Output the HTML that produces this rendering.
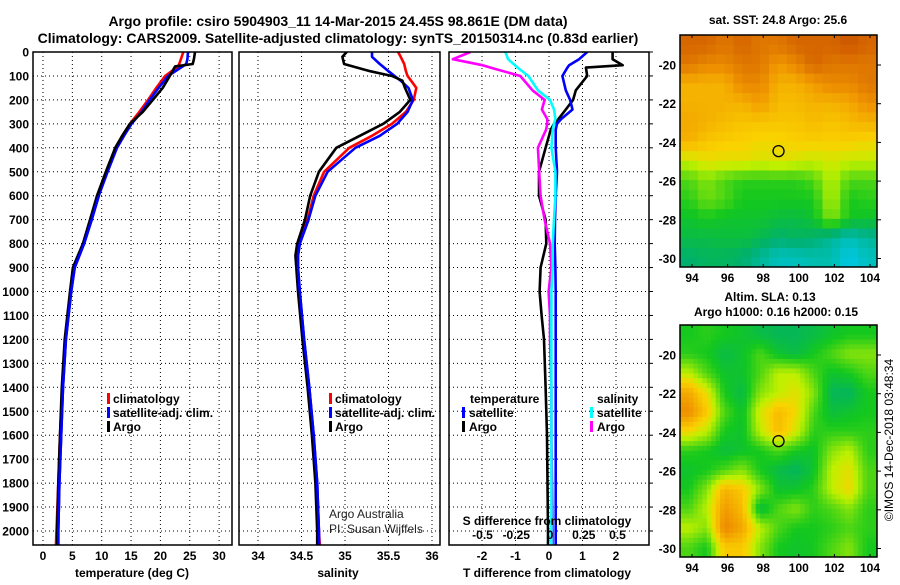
<!DOCTYPE html>
<html><head><meta charset="utf-8"><style>
body{margin:0;background:#fff;}
svg text{font-family:"Liberation Sans",Arial,sans-serif;font-weight:bold;font-size:12px;fill:#000;}
</style></head><body>
<svg id="chart" width="900" height="580" viewBox="0 0 900 580" xmlns="http://www.w3.org/2000/svg">
<text x="338" y="26" text-anchor="middle" style="font-size:14px">Argo profile: csiro 5904903_11 14-Mar-2015 24.45S 98.861E (DM data)</text>
<text x="338" y="43" text-anchor="middle" style="font-size:14px">Climatology: CARS2009. Satellite-adjusted climatology: synTS_20150314.nc (0.83d earlier)</text>
<g id="g"></g>
</svg>
<script>
// ---- data ----
const tDepth=[0,30,50,60,100,150,200,250,300,350,400,500,600,700,800,900,1000,1200,1400,1600,1800,2000,2060];
const tArgo=[25.9,25.7,25.5,22.5,21.6,20.4,18.7,17,14.8,13.5,12.3,10.7,9.2,8,6.8,5.1,4.6,3.7,3.2,2.9,2.6,2.4,2.4];
const tClim=[23.9,23.5,23.2,23,20.8,19.3,17.9,16.4,14.8,13.5,12.4,10.8,9.3,8.1,6.9,5.3,4.7,3.8,3.3,2.9,2.6,2.3,2.2];
const tSat=[24.7,24.6,24.4,23.8,21.3,19.7,18.2,16.8,15.1,13.8,12.6,11,9.5,8.3,7,5.4,4.8,3.9,3.4,3.1,2.8,2.6,2.6];
const sDepth=[0,20,50,80,100,120,150,200,250,300,350,400,500,600,700,800,850,900,1000,1200,1400,1600,1800,2000,2060];
const sArgo=[35.02,34.97,34.99,35.29,35.54,35.66,35.69,35.75,35.63,35.44,35.17,34.9,34.7,34.6,34.54,34.45,34.43,34.44,34.46,34.51,34.57,34.62,34.66,34.68,34.68];
const sClim=[35.61,35.64,35.68,35.7,35.72,35.76,35.82,35.79,35.7,35.54,35.31,35.05,34.76,34.64,34.57,34.47,34.45,34.45,34.47,34.52,34.58,34.63,34.67,34.7,34.71];
const sSat=[35.31,35.31,35.4,35.5,35.57,35.64,35.73,35.78,35.72,35.6,35.4,35.12,34.8,34.66,34.58,34.48,34.46,34.46,34.48,34.53,34.59,34.64,34.68,34.7,34.7];
const dDepth=[0,30,55,65,100,160,200,240,280,300,325,400,500,600,700,800,900,1000,1100,1200,1400,1600,2000,2060];
const dTArgo=[1.9,1.9,2.2,1.1,1.14,0.8,0.72,0.5,0.28,0.15,0.05,-0.1,-0.3,-0.3,-0.1,-0.08,-0.25,-0.28,-0.22,-0.15,-0.1,-0.06,-0.03,-0.03];
const dTSat=[1.14,0.9,0.6,0.55,0.4,0.5,0.63,0.7,0.36,0.24,0.2,0.2,0.24,0.2,0.18,0.17,0.19,0.2,0.2,0.2,0.2,0.2,0.2,0.2];
const dSArgo=[-0.59,-0.72,-0.5,-0.44,-0.22,-0.13,-0.04,-0.06,-0.02,-0.02,-0.03,-0.09,-0.08,-0.07,-0.04,0,0.01,-0.01,0,0,0.01,0.01,0.02,0.02];
const dSSat=[-0.33,-0.31,-0.26,-0.24,-0.16,-0.09,0,0.03,0.04,0.03,0.02,0.01,0.04,0.04,0.03,0.02,0.02,0.01,0.01,0.01,0.01,0.01,0.01,0.01];
const depthTicks=[0,100,200,300,400,500,600,700,800,900,1000,1100,1200,1300,1400,1500,1600,1700,1800,1900,2000];
const tTicks=[0,5,10,15,20,25,30];
const sTicks=[34,34.5,35,35.5,36];
const dTTicks=[-2,-1,0,1,2];
const dSTicks=[-0.5,-0.25,0,0.25,0.5];
const sstGrid=[
[.9,.9,.85,.9,.85,.85,.9,.9,.9,.95,.9],
[.85,.8,.8,.85,.85,.75,.8,.9,.85,.85,.85],
[.7,.7,.7,.8,.8,.7,.7,.75,.8,.8,.85],
[.7,.7,.7,.7,.75,.68,.68,.7,.7,.72,.78],
[.72,.7,.68,.66,.66,.66,.66,.68,.66,.68,.7],
[.7,.66,.64,.64,.62,.62,.64,.64,.64,.64,.62],
[.56,.6,.6,.6,.58,.6,.58,.56,.58,.56,.56],
[.45,.5,.45,.42,.42,.42,.42,.45,.55,.45,.45],
[.42,.48,.45,.4,.4,.4,.4,.4,.55,.4,.42],
[.38,.4,.38,.38,.38,.36,.35,.38,.5,.4,.38],
[.35,.35,.36,.36,.34,.3,.32,.3,.25,.2,.25],
[.3,.32,.32,.3,.25,.2,.2,.22,.22,.15,.2]];
const slaGrid=[
[.4,.42,.4,.38,.35,.33,.33,.35,.38,.4,.4],
[.42,.4,.35,.38,.45,.38,.35,.4,.45,.5,.5],
[.55,.45,.38,.38,.45,.55,.55,.45,.38,.4,.45],
[.72,.6,.4,.35,.5,.55,.6,.5,.33,.32,.4],
[.78,.65,.45,.38,.58,.68,.62,.45,.36,.38,.4],
[.62,.55,.4,.38,.55,.68,.58,.42,.42,.42,.42],
[.42,.4,.36,.38,.4,.45,.4,.38,.5,.55,.42],
[.38,.4,.45,.5,.4,.35,.32,.38,.55,.6,.45],
[.4,.5,.7,.65,.5,.38,.38,.42,.55,.62,.45],
[.45,.55,.75,.68,.35,.45,.5,.42,.45,.5,.42],
[.55,.5,.8,.72,.55,.45,.4,.4,.42,.45,.42],
[.45,.4,.65,.65,.5,.4,.38,.4,.45,.5,.4]];
const lonTicks=[94,96,98,100,102,104];
const latTicks=[-20,-22,-24,-26,-28,-30];
const argoLon=98.861, argoLat=-24.45;

// ---- helpers ----
const NS='http://www.w3.org/2000/svg';
const G=document.getElementById('g');
function el(tag,attrs,parent){const e=document.createElementNS(NS,tag);for(const k in attrs)e.setAttribute(k,attrs[k]);(parent||G).appendChild(e);return e;}
const yD=d=>52+d*0.2395;
const PT={l:33,r:232,x:v=>43+v*5.87};
const PS={l:239,r:440,x:v=>258+(v-34)*87};
const PD={l:449,r:649,xT:v=>549+v*33.5,xS:v=>550+v*135};
const TOP=52,BOT=545;

function panelFrame(p){
  el('rect',{x:p.l,y:TOP,width:p.r-p.l,height:BOT-TOP,fill:'#fff',stroke:'none'});
  for(const d of depthTicks){
    const ln=el('line',{x1:p.l,x2:p.r,y1:yD(d),y2:yD(d),stroke:'#000','stroke-width':1,'stroke-dasharray':'1,3'});
    
    
  }
}
function vgrid(p,xs){
  for(const x of xs){
    const ln=el('line',{x1:x,x2:x,y1:TOP,y2:BOT,stroke:'#000','stroke-width':1,'stroke-dasharray':'1,3'});
    
    
  }
}
function frame(p,name){
  const r=el('rect',{x:p.l,y:TOP,width:p.r-p.l,height:BOT-TOP,fill:'none',stroke:'#000','stroke-width':1.5});
  
  
}
function line(xs,ds,fx,color,name,clip){
  let d='';xs.forEach((v,i)=>{d+=(i?'L':'M')+fx(v).toFixed(1)+','+yD(ds[i]).toFixed(1);});
  const p=el('path',{d:d,fill:'none',stroke:color,'stroke-width':2.6,'stroke-linejoin':'round','clip-path':'url(#'+clip+')'});
  
  
}
function txt(x,y,s,anchor,name,extra){
  const t=el('text',Object.assign({x:x,y:y,'text-anchor':anchor||'start'},extra||{}));t.textContent=s;
  
  
  return t;
}
function legendMark(x,y,color,name){
  const r=el('rect',{x:x,y:y-6,width:3,height:11,fill:color});
  
  
}
const defs=el('defs',{});
[['cT',PT],['cS',PS],['cD',PD]].forEach(([id,p])=>{const c=el('clipPath',{id:id},defs);el('rect',{x:p.l,y:TOP,width:p.r-p.l,height:BOT-TOP},c);});

for(const d of depthTicks) txt(29,yD(d)+4.5,String(d),'end','depth-tick-label');

// panel 1
panelFrame(PT);vgrid(PT,tTicks.map(PT.x));
line(tClim,tDepth,PT.x,'#ff0000','temp-climatology-line','cT');
line(tSat,tDepth,PT.x,'#0000ff','temp-satellite-line','cT');
line(tArgo,tDepth,PT.x,'#000','temp-argo-line','cT');
line(tSat.slice(12),tDepth.slice(12),PT.x,'#0000ff','temp-satellite-line-deep','cT');
frame(PT,'temperature-panel');
tTicks.forEach(v=>txt(PT.x(v),560,String(v),'middle','temp-tick-label'));
txt(132,577,'temperature (deg C)','middle','temp-axis-title');
[['climatology','#ff0000'],['satellite-adj. clim.','#0000ff'],['Argo','#000']].forEach((e,i)=>{legendMark(107,399+i*14,e[1],'temp-legend-mark');txt(113,403+i*14,e[0],'start','temp-legend-entry');});

// panel 2
panelFrame(PS);vgrid(PS,sTicks.map(PS.x));
line(sClim,sDepth,PS.x,'#ff0000','sal-climatology-line','cS');
line(sSat,sDepth,PS.x,'#0000ff','sal-satellite-line','cS');
line(sArgo,sDepth,PS.x,'#000','sal-argo-line','cS');
line(sSat.slice(14),sDepth.slice(14),PS.x,'#0000ff','sal-satellite-line-deep','cS');
frame(PS,'salinity-panel');
sTicks.forEach(v=>txt(PS.x(v),560,String(v),'middle','sal-tick-label'));
txt(338,577,'salinity','middle','sal-axis-title');
[['climatology','#ff0000'],['satellite-adj. clim.','#0000ff'],['Argo','#000']].forEach((e,i)=>{legendMark(329,399+i*14,e[1],'sal-legend-mark');txt(335,403+i*14,e[0],'start','sal-legend-entry');});
txt(329,518,'Argo Australia','start','credit-argo-australia',{style:'font-weight:normal;font-size:12px;fill:#222'});
txt(329,533,'PI: Susan Wijffels','start','credit-pi',{style:'font-weight:normal;font-size:12px;fill:#222'});

// panel 3
panelFrame(PD);vgrid(PD,dTTicks.map(PD.xT));
line(dTArgo,dDepth,PD.xT,'#000','tdiff-argo-line','cD');
line(dTSat,dDepth,PD.xT,'#0000ff','tdiff-satellite-line','cD');
line(dSArgo,dDepth,PD.xS,'#ff00ff','sdiff-argo-line','cD');
line(dSSat,dDepth,PD.xS,'#00ffff','sdiff-satellite-line','cD');
frame(PD,'difference-panel');
depthTicks.forEach(d=>{const t=el('line',{x1:PD.r,x2:PD.r+4,y1:yD(d),y2:yD(d),stroke:'#000'});});
dTTicks.forEach(v=>txt(PD.xT(v),560,String(v),'middle','tdiff-tick-label'));
dSTicks.forEach(v=>txt(PD.xS(v),539,String(v),'middle','sdiff-tick-label'));
txt(547,525,'S difference from climatology','middle','sdiff-axis-title');
txt(547,577,'T difference from climatology','middle','tdiff-axis-title');
txt(470,403,'temperature','start','tdiff-legend-header');
txt(597,403,'salinity','start','sdiff-legend-header');
legendMark(462,413,'#0000ff','tdiff-legend-mark');txt(469,417,'satellite','start','tdiff-legend-entry');
legendMark(462,427,'#000','tdiff-legend-mark');txt(469,431,'Argo','start','tdiff-legend-entry');
legendMark(590,413,'#00ffff','sdiff-legend-mark');txt(597,417,'satellite','start','sdiff-legend-entry');
legendMark(590,427,'#ff00ff','sdiff-legend-mark');txt(597,431,'Argo','start','sdiff-legend-entry');

// colour map
const stops=[[0,[0,0,160]],[0.15,[0,200,230]],[0.3,[0,176,110]],[0.4,[20,200,30]],[0.55,[190,240,0]],[0.63,[250,210,0]],[0.76,[240,150,0]],[0.92,[210,95,0]],[1,[190,70,0]]];
function cmap(v){for(let i=1;i<stops.length;i++){if(v<=stops[i][0]){const a=stops[i-1],b=stops[i],t=(v-a[0])/(b[0]-a[0]);return 'rgb('+a[1].map((c,k)=>Math.round(c+(b[1][k]-c)*t)).join(',')+')';}}return 'rgb(190,70,0)';}
function sample(grid,fi,fj){
  const R=grid.length-1,C=grid[0].length-1;
  fi=Math.max(0,Math.min(R,fi));fj=Math.max(0,Math.min(C,fj));
  const i0=Math.floor(fi),j0=Math.floor(fj),i1=Math.min(R,i0+1),j1=Math.min(C,j0+1),ti=fi-i0,tj=fj-j0;
  return (grid[i0][j0]*(1-tj)+grid[i0][j1]*tj)*(1-ti)+(grid[i1][j0]*(1-tj)+grid[i1][j1]*tj)*ti;
}
function mapPanel(grid,top,name,clipId,sub){
  const L=680,R=877,B=top+232;
  const lonX=lon=>692+(lon-94)*17.8;
  const latY=lat=>top+30+(-20-lat)*19.35;
  const c=el('clipPath',{id:clipId},defs);el('rect',{x:L,y:top,width:R-L,height:B-top},c);
  const grp=el('g',{'clip-path':'url(#'+clipId+')'});
  const rows=grid.length*sub, cols=grid[0].length*sub;
  for(let i=0;i<rows;i++)for(let j=0;j<cols;j++){
    const fi=(i+0.5)/sub-0.5, fj=(j+0.5)/sub-0.5;
    const v=sample(grid,fi,fj);
    const lat0=-18.45-i/sub, lon0=93.33+j/sub;
    const r=el('rect',{x:lonX(lon0).toFixed(1),y:latY(lat0).toFixed(1),width:(17.8/sub+0.6).toFixed(2),height:(19.35/sub+0.6).toFixed(2),fill:cmap(v)},grp);
    
    
  }
  const f=el('rect',{x:L,y:top,width:R-L,height:B-top,fill:'none',stroke:'#000','stroke-width':1.5});
  
  
  lonTicks.forEach(v=>{txt(lonX(v),B+15,String(v),'middle','lon-tick-label');el('line',{x1:lonX(v),x2:lonX(v),y1:B,y2:B-3,stroke:'#000'});el('line',{x1:lonX(v),x2:lonX(v),y1:top,y2:top+3,stroke:'#000'});});
  latTicks.forEach(v=>{txt(676,latY(v)+4.5,String(v),'end','lat-tick-label');el('line',{x1:R,x2:R+4,y1:latY(v),y2:latY(v),stroke:'#000'});});
  const m=el('circle',{cx:lonX(argoLon),cy:latY(argoLat),r:5.5,fill:'none',stroke:'#000','stroke-width':1.3});
  
  
}
txt(778,24,'sat. SST: 24.8 Argo: 25.6','middle','sst-map-title');
mapPanel(sstGrid,35,'sst-map','cM1',2);
txt(770,301,'Altim. SLA: 0.13','middle','sla-map-title');
txt(776,316,'Argo h1000: 0.16 h2000: 0.15','middle','sla-map-subtitle');
mapPanel(slaGrid,325,'sla-map','cM2',4);
txt(0,0,'©IMOS 14-Dec-2018 03:48:34','middle','timestamp',{transform:'translate(893,440) rotate(-90)',style:'font-weight:normal;font-size:12px'});
</script>
</body></html>
